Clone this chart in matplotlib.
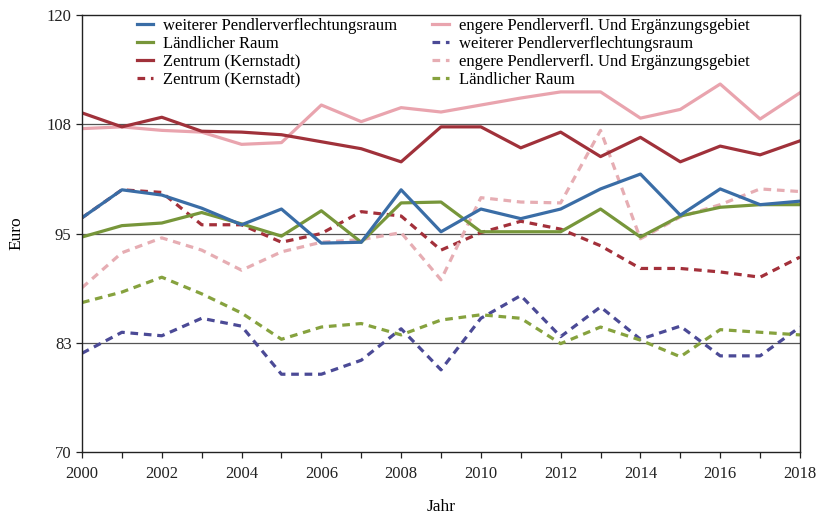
import matplotlib
matplotlib.use("Agg")
import matplotlib.pyplot as plt
from matplotlib.ticker import MultipleLocator

# Years
years = list(range(2000, 2019))

# Solid series
weiterer = [96.8, 100.0, 99.4, 97.9, 96.0, 97.8, 93.9, 94.0, 100.0, 95.2, 97.8,
            96.7, 97.8, 100.1, 101.8, 97.1, 100.1, 98.3, 98.7]
laendlich = [94.6, 95.9, 96.2, 97.4, 96.1, 94.7, 97.6, 94.0, 98.5, 98.6, 95.2,
             95.2, 95.2, 97.8, 94.6, 97.0, 98.0, 98.3, 98.3]
zentrum = [108.8, 107.2, 108.3, 106.7, 106.6, 106.3, 105.5, 104.7, 103.2, 107.2, 107.2,
           104.8, 106.6, 103.8, 106.0, 103.2, 105.0, 104.0, 105.6]
engere = [107.0, 107.2, 106.8, 106.6, 105.2, 105.4, 109.7, 107.8, 109.4, 108.9, 109.7,
          110.5, 111.2, 111.2, 108.2, 109.2, 112.1, 108.1, 111.1]

# Dashed series
zentrum_d = [96.8, 100.0, 99.7, 96.0, 96.0, 94.0, 95.0, 97.5, 97.0, 93.1, 95.1,
             96.4, 95.5, 93.6, 91.0, 91.0, 90.6, 90.0, 92.3]
weiterer_d = [81.3, 83.7, 83.3, 85.3, 84.4, 78.9, 78.9, 80.5, 84.1, 79.4, 85.3,
              87.9, 83.2, 86.6, 82.9, 84.4, 81.0, 81.0, 84.3]
engere_d = [88.8, 92.8, 94.5, 93.1, 90.8, 92.9, 94.0, 94.3, 95.1, 89.7, 99.1,
            98.6, 98.5, 106.8, 94.4, 96.9, 98.3, 100.1, 99.8]
laendlich_d = [87.1, 88.3, 90.0, 88.1, 85.9, 82.9, 84.3, 84.7, 83.4, 85.1, 85.7,
               85.3, 82.4, 84.3, 82.8, 80.9, 84.0, 83.7, 83.4]

y_ticks = [70, 82.5, 95, 107.5, 120]
y_labels = ["70", "83", "95", "108", "120"]

plt.rcParams["font.family"] = ["Liberation Serif", "DejaVu Serif"]

fig = plt.figure(figsize=(8.21, 5.17), dpi=100)
ax = fig.add_axes([0.0999, 0.1257, 0.8745, 0.8453])

lw = 2.3
dash = (2.4, 1.8)

# dashed first so solids sit on top
h_zd, = ax.plot(years, zentrum_d, color="#A3303A", lw=lw, dashes=dash, label="Zentrum (Kernstadt)")
h_wd, = ax.plot(years, weiterer_d, color="#4B4A96", lw=lw, dashes=dash, label="weiterer Pendlerverflechtungsraum")
h_ed, = ax.plot(years, engere_d, color="#E6ADB3", lw=lw, dashes=dash, label="engere Pendlerverfl. Und Ergänzungsgebiet")
h_ld, = ax.plot(years, laendlich_d, color="#86A23E", lw=lw, dashes=dash, label="Ländlicher Raum")

h_e, = ax.plot(years, engere, color="#E9A4AE", lw=lw, label="engere Pendlerverfl. Und Ergänzungsgebiet")
h_z, = ax.plot(years, zentrum, color="#A0313A", lw=lw, label="Zentrum (Kernstadt)")
h_l, = ax.plot(years, laendlich, color="#77963A", lw=lw, label="Ländlicher Raum")
h_w, = ax.plot(years, weiterer, color="#3A6DA6", lw=lw, label="weiterer Pendlerverflechtungsraum")

ax.set_xlim(2000, 2018)
ax.set_ylim(70, 120)
ax.set_yticks(y_ticks)
ax.set_yticklabels(y_labels)
for yv in y_ticks[1:-1]:
    ax.axhline(yv, color="#555555", lw=0.9, zorder=0)

ax.xaxis.set_major_locator(MultipleLocator(1))
ax.set_xticks(years)
ax.set_xticklabels([str(y) if y % 2 == 0 else "" for y in years])
ax.tick_params(axis="both", labelsize=12, direction="out", length=4, width=0.9, colors="#222222")
ax.tick_params(axis="x", pad=6)

for sp in ax.spines.values():
    sp.set_linewidth(1.0)
    sp.set_color("#222222")

ax.set_xlabel("Jahr", fontsize=12.5, labelpad=12)
ax.set_ylabel("Euro", fontsize=12.5, labelpad=16)

handles = [h_w, h_l, h_z, h_zd, h_e, h_wd, h_ed, h_ld]
ax.legend(handles=handles, labels=[h.get_label() for h in handles], ncol=2, frameon=False,
          loc="upper left", bbox_to_anchor=(0.055, 1.028), fontsize=12,
          handlelength=1.0, handletextpad=0.6, columnspacing=2.1, labelspacing=0.12)

fig.savefig("out.png", dpi=100)
